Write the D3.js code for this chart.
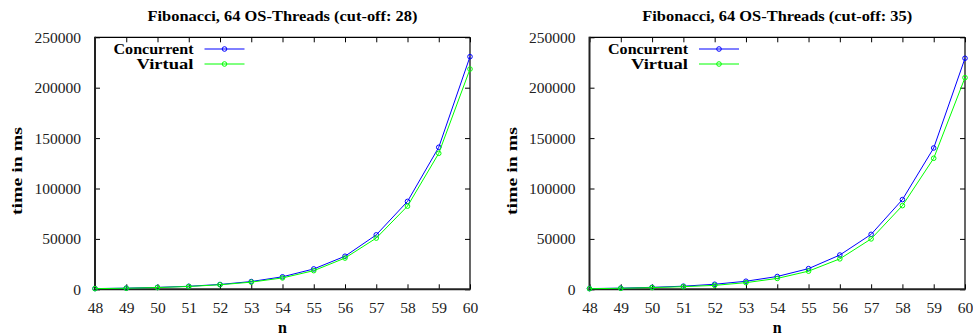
<!DOCTYPE html>
<html>
<head>
<meta charset="utf-8">
<script src="https://cdn.jsdelivr.net/npm/d3@7"></script>
<style>
  html, body { margin: 0; padding: 0; background: #fff; }
  svg { display: block; }
  text { font-family: "Liberation Serif", "DejaVu Serif", "Times New Roman", serif; }
</style>
</head>
<body>
<svg id="chart" width="973" height="336"></svg>
<script>
// ---- data ----
const nValues = [48, 49, 50, 51, 52, 53, 54, 55, 56, 57, 58, 59, 60];
const xTicks = [48, 49, 50, 51, 52, 53, 54, 55, 56, 57, 58, 59, 60];
const yTicks = [0, 50000, 100000, 150000, 200000, 250000];
const seriesNames = ["Concurrent", "Virtual"];
const seriesColors = ["#0000ff", "#00ff00"];
const titles = ["Fibonacci, 64 OS-Threads (cut-off: 28)", "Fibonacci, 64 OS-Threads (cut-off: 35)"];

const cut28Concurrent = [700, 1150, 1900, 3000, 4800, 7700, 12400, 20200, 32800, 54000, 87200, 140900, 230800];
const cut28Virtual    = [650, 1050, 1750, 2800, 4500, 7100, 11300, 18500, 31000, 50800, 82500, 134900, 218500];
const cut35Concurrent = [700, 1150, 1950, 3100, 5000, 8000, 12700, 20500, 34000, 54500, 89000, 140200, 229200];
const cut35Virtual    = [600, 1000, 1700, 2600, 3900, 6600, 10800, 18000, 30200, 50000, 83000, 130000, 210000];

const panels = [
  { title: titles[0], series: [cut28Concurrent, cut28Virtual], left: 95, right: 470 },
  { title: titles[1], series: [cut35Concurrent, cut35Virtual], left: 589.5, right: 965 }
];

(function () {
const FONT = '"Liberation Serif", "DejaVu Serif", "Times New Roman", serif';
const svg = d3.select("#chart");
const plotTop = 37.3, plotBottom = 289.3;

panels.forEach(p => {
  const g = svg.append("g");
  const x = d3.scaleLinear().domain([48, 60]).range([p.left, p.right]);
  const y = d3.scaleLinear().domain([0, 250000]).range([plotBottom, plotTop]);
  const tickLen = 5;

  const bottomAxis = d3.axisBottom(x).tickValues(xTicks).tickSizeInner(-tickLen).tickSizeOuter(0).tickPadding(13).tickFormat(d3.format("d"));
  const topAxis = d3.axisTop(x).tickValues(xTicks).tickSizeInner(-tickLen).tickSizeOuter(0).tickFormat("");
  const leftAxis = d3.axisLeft(y).tickValues(yTicks).tickSizeInner(-tickLen).tickSizeOuter(0).tickPadding(14).tickFormat(d3.format("d"));
  const rightAxis = d3.axisRight(y).tickValues(yTicks).tickSizeInner(-tickLen).tickSizeOuter(0).tickFormat("");

  const gb = g.append("g").attr("transform", `translate(0,${plotBottom})`).call(bottomAxis);
  const gt = g.append("g").attr("transform", `translate(0,${plotTop})`).call(topAxis);
  const gl = g.append("g").attr("transform", `translate(${p.left},0)`).call(leftAxis);
  const gr = g.append("g").attr("transform", `translate(${p.right},0)`).call(rightAxis);
  [gb, gt, gl, gr].forEach(a => {
    a.attr("font-family", FONT);
    a.select(".domain").remove();
    a.selectAll(".tick line").attr("stroke", "#000").attr("stroke-width", 1);
    a.selectAll(".tick text").attr("fill", "#222").style("font-size", "15.5px")
      .style("font-family", FONT);
  });
  gb.selectAll(".tick text").attr("dy", "0.71em");

  // frame
  g.append("line").attr("x1", p.left).attr("x2", p.right).attr("y1", plotTop).attr("y2", plotTop).attr("stroke", "#000").attr("stroke-width", 1.2);
  g.append("line").attr("x1", p.right).attr("x2", p.right).attr("y1", plotTop).attr("y2", plotBottom).attr("stroke", "#000").attr("stroke-width", 1.2);
  g.append("line").attr("x1", p.left).attr("x2", p.left).attr("y1", plotTop - 0.6).attr("y2", plotBottom + 1).attr("stroke", "#222").attr("stroke-width", 2);
  g.append("line").attr("x1", p.left - 1).attr("x2", p.right + 0.6).attr("y1", plotBottom).attr("y2", plotBottom).attr("stroke", "#222").attr("stroke-width", 2);

  // series
  const line = d3.line().x((d, i) => x(nValues[i])).y(d => y(d));
  p.series.forEach((vals, si) => {
    g.append("path").datum(vals).attr("d", line).attr("fill", "none")
      .attr("stroke", seriesColors[si]).attr("stroke-width", 1);
    g.selectAll(null).data(vals).enter().append("circle")
      .attr("cx", (d, i) => x(nValues[i])).attr("cy", d => y(d)).attr("r", 2.3)
      .attr("fill", "none").attr("stroke", seriesColors[si]).attr("stroke-width", 1);
  });

  // title
  g.append("text").attr("x", (p.left + p.right) / 2).attr("y", 21).attr("text-anchor", "middle")
    .style("font-family", FONT).style("font-size", "15.5px").style("font-weight", "bold").attr("fill", "#000")
    .attr("textLength", 270).attr("lengthAdjust", "spacingAndGlyphs").text(p.title);

  // axis titles
  g.append("text").attr("x", (p.left + p.right) / 2).attr("y", 333).attr("text-anchor", "middle")
    .style("font-family", FONT).style("font-size", "16px").style("font-weight", "bold").attr("fill", "#000").text("n");
  g.append("text").attr("transform", `translate(${p.left - 73},171) rotate(-90)`).attr("text-anchor", "middle")
    .style("font-family", FONT).style("font-size", "15.5px").style("font-weight", "bold").attr("fill", "#000")
    .attr("textLength", 88).attr("lengthAdjust", "spacingAndGlyphs").text("time in ms");

  // legend
  const textEnd = p.left + 98.5;
  const legendLens = [80, 57];
  seriesNames.forEach((name, si) => {
    const ly = 49 + si * 15;
    g.append("text").attr("x", textEnd).attr("y", ly).attr("dy", "0.33em").attr("text-anchor", "end")
      .style("font-family", FONT).style("font-size", "14px").style("font-weight", "bold").attr("fill", "#000")
      .attr("textLength", legendLens[si]).attr("lengthAdjust", "spacingAndGlyphs").text(name);
    g.append("line").attr("x1", textEnd + 11).attr("x2", textEnd + 51).attr("y1", ly).attr("y2", ly)
      .attr("stroke", seriesColors[si]).attr("stroke-width", 1);
    g.append("circle").attr("cx", textEnd + 31).attr("cy", ly).attr("r", 2.3)
      .attr("fill", "none").attr("stroke", seriesColors[si]).attr("stroke-width", 1);
  });
});
})();
</script>
</body>
</html>
